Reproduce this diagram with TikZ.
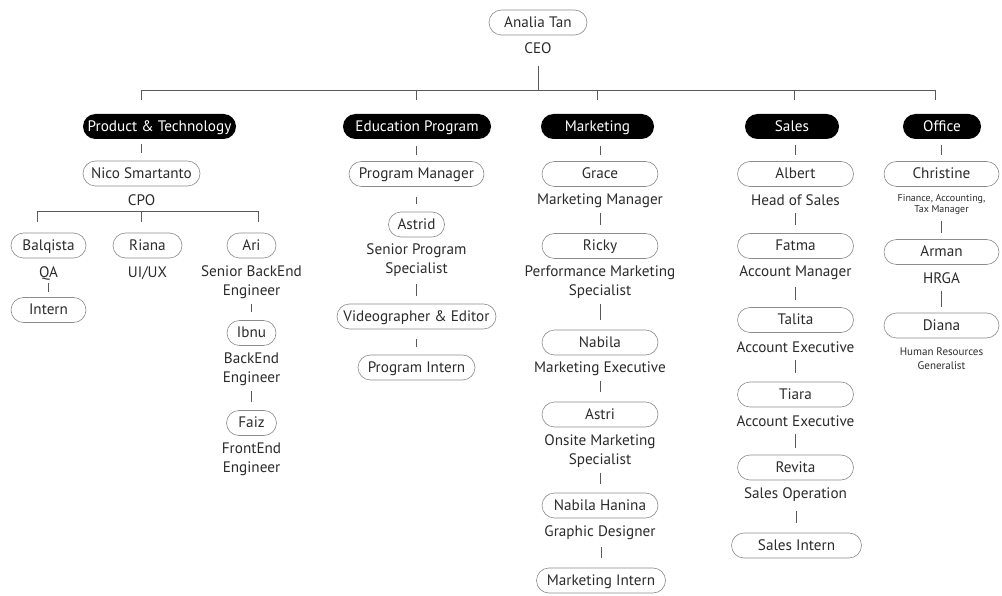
\documentclass[tikz,border=0pt]{standalone}
\usepackage{fontspec}
\setmainfont{PT Sans}
\usetikzlibrary{calc}
\definecolor{linegray}{HTML}{5A5A5A}
\definecolor{boxgray}{HTML}{8C8C8C}
\definecolor{txt}{HTML}{2B2B2B}
\newcommand\fs{\fontsize{15.2}{19}\selectfont}
\newcommand\fss{\fontsize{10}{11}\selectfont}
\newcommand\fsm{\fontsize{11}{14}\selectfont}
\newcommand\vlink[4]{\draw[link] ($(#2.north |- #1.south)+(0,#3)$) -- ($(#2.north)+(0,-#4)$);}
\tikzset{
  person/.style={draw=boxgray, line width=0.6pt, rounded corners=12.5pt, minimum height=25pt, inner sep=0pt, text height=12.3pt, text depth=2.7pt, text=txt, font=\fs},
  dept/.style={fill=black, rounded corners=12.5pt, minimum height=25pt, inner sep=0pt, text height=12.3pt, text depth=2.7pt, text=white, font=\fs},
  role/.style={text=txt, font=\fs, align=center, inner sep=0pt},
  link/.style={draw=linegray, line width=0.8pt},
}
\begin{document}
\begin{tikzpicture}[x=1pt,y=-1pt]
\useasboundingbox (0,0) rectangle (1002,596);
% CEO
\node[person, minimum width=98] (ceo) at (538,22.5) {Analia Tan};
\node[role] (ceot) at (538,48) {CEO};
\coordinate (jc) at (538,90);
\coordinate (j1) at (141,90);
\coordinate (j2) at (416,90);
\coordinate (j3) at (597,90);
\coordinate (j4) at (794,90);
\coordinate (j5) at (935,90);
\draw[link] ($(ceot.south)+(0,12)$) -- (jc);
\draw[link] (j1) -- (j5);
\foreach \j in {j1,j2,j3,j4,j5} \draw[link] (\j) -- ++(0,10);
% Departments
\node[dept, minimum width=153] (pt) at (159.5,126.5) {Product \& Technology};
\node[dept, minimum width=148] (ep) at (417,126.5) {Education Program};
\node[dept, minimum width=113] (mk) at (597.5,126.5) {Marketing};
\node[dept, minimum width=94] (sa) at (792,126.5) {Sales};
\node[dept, minimum width=78] (of) at (942,126.5) {Office};
% Product & Technology
\node[person, minimum width=117] (nico) at (141.5,173.5) {Nico Smartanto};
\node[role] (nicot) at (141.5,200) {CPO};
\vlink{pt}{nico}{5}{8}
\coordinate (s1) at (37,211);
\coordinate (s2) at (141,211);
\coordinate (s3) at (258,211);
\draw[link] (s1) -- (s3);
\foreach \s in {s1,s2,s3} \draw[link] (\s) -- ++(0,11);
\node[person, minimum width=75] (balq) at (48.5,245.5) {Balqista};
\node[role] (balqt) at (48.5,273) {QA};
\node[person, minimum width=75] (intern) at (48.5,310) {Intern};
\vlink{balqt}{intern}{3}{5}
\node[person, minimum width=69] (riana) at (147.5,245.5) {Riana};
\node[role] (rianat) at (147.5,273) {UI/UX};
\node[person, minimum width=49] (ari) at (251.5,245.5) {Ari};
\node[role] (arit) at (251.5,282.5) {Senior BackEnd\\Engineer};
\node[person, minimum width=49] (ibnu) at (251.5,333) {Ibnu};
\vlink{arit}{ibnu}{5}{8}
\node[role] (ibnut) at (251.5,369.5) {BackEnd\\Engineer};
\node[person, minimum width=50] (faiz) at (251.5,423) {Faiz};
\vlink{ibnut}{faiz}{5}{8}
\node[role] (faizt) at (251.5,459) {FrontEnd\\Engineer};
% Education Program
\node[person, minimum width=135] (pm) at (416.5,174) {Program Manager};
\vlink{ep}{pm}{7}{6}
\node[person, minimum width=56] (astrid) at (416.5,224.5) {Astrid};
\vlink{pm}{astrid}{10}{8}
\node[role] (astridt) at (416.5,260.5) {Senior Program\\Specialist};
\node[person, minimum width=159] (video) at (416.5,316.5) {Videographer \& Editor};
\vlink{astridt}{video}{7}{8}
\node[person, minimum width=117] (pint) at (416.5,367.5) {Program Intern};
\vlink{video}{pint}{10}{8}
% Marketing
\node[person, minimum width=116] (grace) at (600,174) {Grace};
\vlink{mk}{grace}{7}{6}
\node[role] (gracet) at (600,201) {Marketing Manager};
\node[person, minimum width=116] (ricky) at (600,246) {Ricky};
\vlink{gracet}{ricky}{5}{8}
\node[role] (rickyt) at (600,282.5) {Performance Marketing\\Specialist};
\node[person, minimum width=116] (nabila) at (600,342.5) {Nabila};
\vlink{rickyt}{nabila}{5}{10}
\node[role] (nabilat) at (600,369) {Marketing Executive};
\node[person, minimum width=116] (astri) at (600,414.5) {Astri};
\vlink{nabilat}{astri}{5}{10}
\node[role] (astrit) at (600,451) {Onsite Marketing\\Specialist};
\node[person, minimum width=116] (nhan) at (600,505.5) {Nabila Hanina};
\vlink{astrit}{nhan}{5}{9}
\node[role] (nhant) at (600,533) {Graphic Designer};
\node[person, minimum width=129] (mint) at (601,580.5) {Marketing Intern};
\vlink{nhant}{mint}{7}{10}
% Sales
\node[person, minimum width=116] (albert) at (795.5,174) {Albert};
\vlink{sa}{albert}{6}{6}
\node[role] (albertt) at (795.5,200) {Head of Sales};
\node[person, minimum width=116] (fatma) at (795.5,246) {Fatma};
\vlink{albertt}{fatma}{7}{8}
\node[role] (fatmat) at (795.5,273) {Account Manager};
\node[person, minimum width=116] (talita) at (795.5,320) {Talita};
\vlink{fatmat}{talita}{7}{7}
\node[role] (talitat) at (795.5,347) {Account Executive};
\node[person, minimum width=116] (tiara) at (795.5,394.5) {Tiara};
\vlink{talitat}{tiara}{7}{9}
\node[role] (tiarat) at (795.5,421) {Account Executive};
\node[person, minimum width=116] (revita) at (795.5,467.5) {Revita};
\vlink{tiarat}{revita}{7}{7}
\node[role] (revitat) at (795.5,495) {Sales Operation};
\node[person, minimum width=130] (sint) at (796.5,545.5) {Sales Intern};
\vlink{revitat}{sint}{9}{10}
% Office
\node[person, minimum width=115] (chris) at (941.5,174) {Christine};
\vlink{of}{chris}{6}{6}
\node[role, font=\fss] (christ) at (941.5,204.5) {Finance, Accounting,\\Tax Manager};
\node[person, minimum width=115] (arman) at (941.5,252) {Arman};
\vlink{christ}{arman}{6}{6}
\node[role] (armant) at (941.5,278) {HRGA};
\node[person, minimum width=115] (diana) at (941.5,325.5) {Diana};
\vlink{armant}{diana}{7}{6}
\node[role, font=\fsm] (dianat) at (941.5,359) {Human Resources\\Generalist};
\end{tikzpicture}
\end{document}
